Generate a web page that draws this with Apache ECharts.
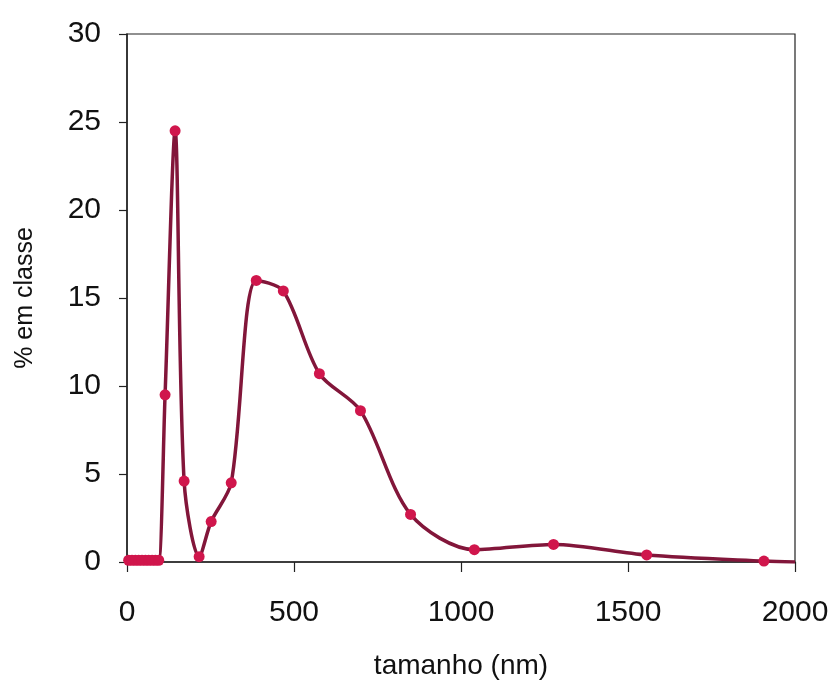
<!DOCTYPE html>
<html>
<head>
<meta charset="utf-8">
<script src="https://cdn.jsdelivr.net/npm/echarts@6/dist/echarts.min.js"></script>
<style>
  html, body { margin: 0; padding: 0; background: #fff; }
  #chart { width: 836px; height: 687px; }
</style>
</head>
<body>
<div id="chart"></div>
<script>
// particle size (nm) and % in class
const sizes = [5, 15, 25, 35, 45, 55, 65, 75, 85, 95, 114, 144, 171, 216, 252, 312, 387, 468, 576, 699, 849, 1040, 1277, 1556, 1907, 2000]
const percent = [0.1, 0.1, 0.1, 0.1, 0.1, 0.1, 0.1, 0.1, 0.1, 0.1, 9.5, 24.5, 4.6, 0.3, 2.3, 4.5, 16.0, 15.4, 10.7, 8.6, 2.7, 0.7, 1.0, 0.4, 0.05, 0]
const xTicks = [0, 500, 1000, 1500, 2000]
const yTicks = [0, 5, 10, 15, 20, 25, 30]

const chart = echarts.init(document.getElementById('chart'))

const seriesData = sizes.map((s, i) => {
  const item = { value: [s, percent[i]] }
  // the curve runs on to the frame, last point carries no marker
  if (i === sizes.length - 1) item.symbol = 'none'
  return item
})

const labelFont = { fontFamily: 'Liberation Sans', fontSize: 30, color: '#111' }

chart.setOption({
  animation: false,
  backgroundColor: '#fff',
  grid: {
    left: 127,
    right: 41,
    top: 34,
    bottom: 125,
    show: true,
    borderColor: '#222',
    borderWidth: 1.2
  },
  xAxis: {
    type: 'value',
    min: xTicks[0],
    max: xTicks[xTicks.length - 1],
    interval: 500,
    name: 'tamanho (nm)',
    nameLocation: 'middle',
    nameGap: 90,
    nameTextStyle: { fontFamily: 'Liberation Sans', fontSize: 28, color: '#111' },
    axisLine: { lineStyle: { color: '#222', width: 1.5 } },
    axisTick: { inside: false, length: 10, lineStyle: { color: '#222', width: 1.2 } },
    axisLabel: Object.assign({ margin: 36, formatter: v => String(v) }, labelFont),
    splitLine: { show: false }
  },
  yAxis: {
    type: 'value',
    min: yTicks[0],
    max: yTicks[yTicks.length - 1],
    interval: 5,
    name: '% em classe',
    nameLocation: 'middle',
    nameRotate: 90,
    nameGap: 89,
    nameTextStyle: { fontFamily: 'Liberation Sans', fontSize: 25, color: '#111' },
    axisLine: { show: true, lineStyle: { color: '#222', width: 1.5 } },
    axisTick: { show: true, inside: false, length: 8, lineStyle: { color: '#222', width: 1.2 } },
    axisLabel: Object.assign({ margin: 26, formatter: v => String(v) }, labelFont),
    splitLine: { show: false }
  },
  series: [{
    type: 'line',
    data: seriesData,
    smooth: 0.3,
    symbol: 'circle',
    symbolSize: 11,
    lineStyle: { color: '#82163a', width: 3.5 },
    itemStyle: { color: '#d0164c' }
  }]
})
</script>
</body>
</html>
